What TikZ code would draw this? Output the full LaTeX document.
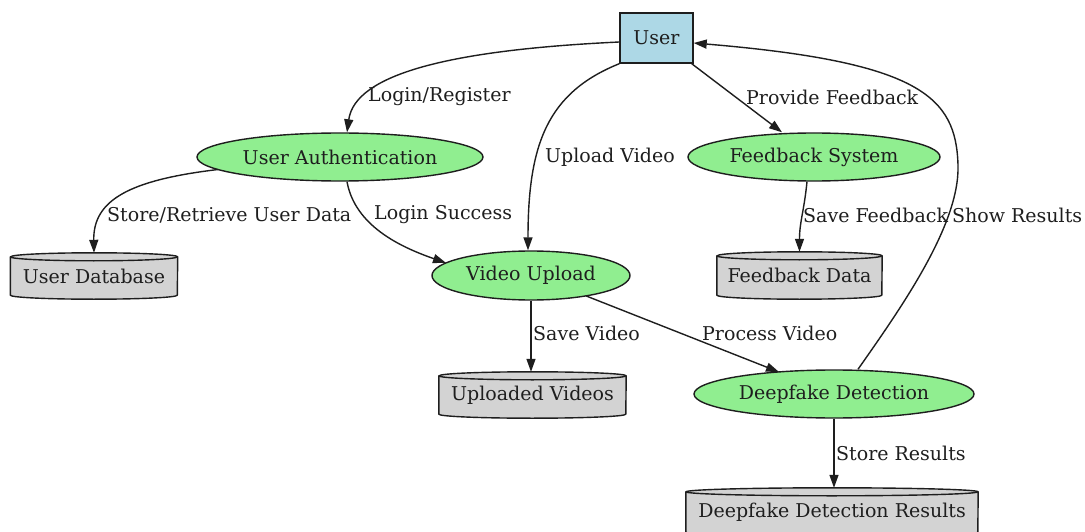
\documentclass[tikz,border=0pt]{standalone}
\usepackage{fontspec}
\setmainfont{DejaVu Serif}
\usetikzlibrary{shapes.geometric,arrows.meta,backgrounds}

\definecolor{userblue}{HTML}{ADD8E6}
\definecolor{procgreen}{HTML}{90EE90}
\definecolor{storegray}{HTML}{D3D3D3}
\definecolor{ink}{HTML}{1E1E1E}

\tikzset{
  every node/.style={font=\fontsize{19}{22}\selectfont, text=ink},
  entity/.style={rectangle, draw=ink, fill=userblue, line width=1.4pt,
    minimum width=73pt, minimum height=50pt, inner sep=0pt},
  process/.style={ellipse, draw=ink, fill=procgreen, line width=1.4pt, inner sep=0pt},
  store/.style={rectangle, inner sep=0pt},
  flow/.style={draw=ink, line width=1.4pt, -{Triangle[length=13pt,width=9pt]}},
  lbl/.style={anchor=west, inner sep=0pt},
  dbbody/.style={fill=storegray, draw=ink, line width=1.4pt, line join=round},
}

% data store: a cylinder drawn round a named node (#2 = half of its width)
\newcommand\dbshape[2]{%
  \path[dbbody] ([yshift=-4pt]#1.north west) -- ([yshift=4pt]#1.south west)
    arc[start angle=180, end angle=360, x radius=#2, y radius=4pt]
    -- ([yshift=-4pt]#1.north east)
    arc[start angle=0, end angle=180, x radius=#2, y radius=4pt] -- cycle;
  \draw[ink, line width=1.4pt] ([yshift=-4pt]#1.north west)
    arc[start angle=180, end angle=360, x radius=#2, y radius=4pt];
}

\begin{document}
\begin{tikzpicture}[x=1pt,y=1pt]
\useasboundingbox (0,0) rectangle (1085,-532);

% external entity and processes
\node[entity] (user) at (656.5,-38) {User};
\node[process, minimum width=286pt, minimum height=48pt] (auth) at (340,-157) {User Authentication};
\node[process, minimum width=252pt, minimum height=48pt] (fbsys) at (814,-157) {Feedback System};
\node[process, minimum width=198pt, minimum height=49pt] (upload) at (531,-275.5) {Video Upload};
\node[process, minimum width=280pt, minimum height=48pt] (detect) at (834,-394) {Deepfake Detection};

% data stores
\node[store, minimum width=167pt, minimum height=46pt] (userdb) at (94,-276) {User Database};
\node[store, minimum width=165pt, minimum height=47pt] (fbdata) at (799.5,-275.5) {Feedback Data};
\node[store, minimum width=187pt, minimum height=46pt] (videos) at (532.5,-395) {Uploaded Videos};
\node[store, minimum width=292pt, minimum height=48pt] (results) at (832,-512) {Deepfake Detection Results};

\begin{scope}[on background layer]
  \fill[white] (0,0) rectangle (1085,-532);
  \dbshape{userdb}{83.5pt}
  \dbshape{fbdata}{82.5pt}
  \dbshape{videos}{93.5pt}
  \dbshape{results}{146pt}
\end{scope}

% data flows
\draw[flow] ([yshift=-4pt]user.west) .. controls +(-170,-8) and +(8,58) .. ([xshift=7pt]auth.north);
\draw[flow] (user.south west) .. controls +(-72,-29) and +(0,106) .. ([xshift=-3pt]upload.north);
\draw[flow] ([xshift=-2pt]user.south east) -- ([xshift=-32pt]fbsys.north);
\coordinate (turn) at (958,-165);
\draw[flow] ([xshift=24pt]detect.north) .. controls +(42,60) and +(2,-60) .. (turn)
  .. controls +(-2,68) and +(227,-19) .. ([yshift=-5pt]user.east);
\draw[flow] ([xshift=-7pt]fbsys.south) .. controls +(-3,-30) and +(0,30) .. (fbdata.north);
\draw[flow] ([xshift=-122pt,yshift=-12.5pt]auth.center) .. controls +(-88,-10.5) and +(-1,53) .. (userdb.north);
\draw[flow] ([xshift=7pt]auth.south) .. controls +(8,-44) and +(-46,16) .. ([xshift=-85pt,yshift=12.6pt]upload.center);
\draw[flow] (upload.south) -- (upload.south |- videos.north);
\draw[flow] ([xshift=55pt,yshift=-20.4pt]upload.center) -- ([xshift=-55pt,yshift=22pt]detect.center);
\draw[flow] (detect.south) -- (detect.south |- results.north);

% flow labels
\node[lbl] (tLogin)   at (368,-97)  {Login/Register};
\node[lbl] (tUpload)  at (545,-157) {Upload Video};
\node[lbl] (tFeed)    at (746,-97)  {Provide Feedback};
\node[lbl] (tStoreU)  at (107,-215) {Store/Retrieve User Data};
\node[lbl] (tSuccess) at (374,-215) {Login Success};
\node[lbl] (tSaveF)   at (803,-215) {Save Feedback};
\node[lbl] (tShow)    at (952,-215) {Show Results};
\node[lbl] (tSaveV)   at (533,-333) {Save Video};
\node[lbl] (tProc)    at (702,-333) {Process Video};
\node[lbl] (tStoreR)  at (836,-453) {Store Results};
\end{tikzpicture}
\end{document}
